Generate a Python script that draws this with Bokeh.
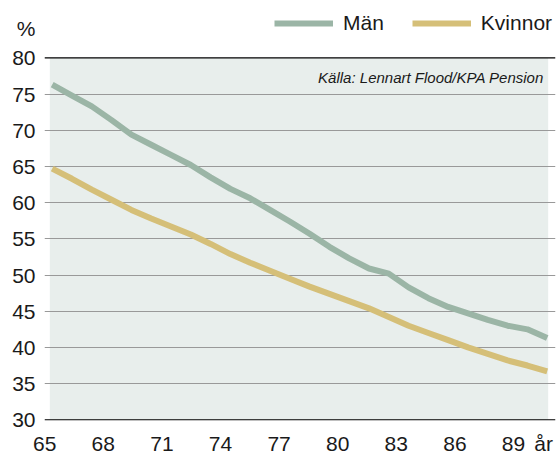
from bokeh.plotting import figure
from bokeh.models import (Range1d, LinearAxis, FixedTicker, Span, BoxAnnotation,
                          Label, Legend, LegendItem)
from bokeh.embed import file_html
from bokeh.resources import INLINE

# ---- data ----
ages = list(range(65, 91))
man = [76.3, 74.8, 73.3, 71.4, 69.4, 68.0, 66.6, 65.2, 63.5, 61.9, 60.6, 59.0, 57.4,
       55.7, 53.9, 52.3, 50.9, 50.2, 48.3, 46.8, 45.6, 44.7, 43.8, 43.0, 42.5, 41.3]
kvinnor = [64.7, 63.3, 61.8, 60.4, 59.0, 57.8, 56.7, 55.6, 54.3, 52.9, 51.7, 50.6, 49.5,
           48.4, 47.4, 46.4, 45.4, 44.2, 43.0, 42.0, 41.0, 40.0, 39.1, 38.2, 37.5, 36.7]
x_ticks = [65, 68, 71, 74, 77, 80, 83, 86, 89]
y_ticks = [30, 35, 40, 45, 50, 55, 60, 65, 70, 75, 80]
grid_vals = [35, 40, 45, 50, 55, 60, 65, 70, 75]
series_names = ["Män", "Kvinnor"]
source_text = "Källa: Lennart Flood/KPA Pension"
unit_text = "%"
x_unit_text = "år"

C_MAN = "#9bb5a6"
C_KV = "#d5bf78"
SHADE = "#e8eeec"
TXT = "#1a1a1a"
FONT = "Liberation Sans"

W, H = 559, 457
Y_LO, Y_HI = y_ticks[0], y_ticks[-1]

# the frame reaches the top of the canvas so the unit and legend sit inside it
p = figure(width=W, height=H, output_backend="svg", toolbar_location=None,
           x_range=Range1d(64.611, 90.419), y_range=Range1d(29.904, 87.93),
           min_border_left=44, min_border_right=4, min_border_top=0,
           min_border_bottom=35, x_axis_location=None, y_axis_location="left")
p.outline_line_color = None
p.background_fill_color = "white"
p.border_fill_color = "white"

# axis scale for the age labels
p.extra_x_ranges = {"lab": Range1d(64.99, 91.15)}
AR_POS = 90.54
xa = LinearAxis(x_range_name="lab", ticker=FixedTicker(ticks=x_ticks + [AR_POS]))
xa.major_label_overrides = {AR_POS: x_unit_text}
xa.axis_line_color = None
xa.major_tick_line_color = None
xa.minor_tick_line_color = None
xa.major_tick_out = 0
xa.major_tick_in = 0
xa.major_label_standoff = 11
xa.major_label_text_font = FONT
xa.major_label_text_font_size = "21px"
xa.major_label_text_color = TXT
p.add_layout(xa, "below")

PCT_POS = 84.02
ya = p.yaxis[0]
ya.ticker = FixedTicker(ticks=y_ticks + [PCT_POS])
ya.major_label_overrides = {PCT_POS: unit_text}
ya.axis_line_color = None
ya.major_tick_line_color = None
ya.minor_tick_line_color = None
ya.major_tick_out = 0
ya.major_tick_in = 0
ya.major_label_standoff = 9
ya.major_label_text_font = FONT
ya.major_label_text_font_size = "21px"
ya.major_label_text_color = TXT

p.xgrid.visible = False
p.ygrid.ticker = FixedTicker(ticks=grid_vals)
p.ygrid.grid_line_color = "#999999"
p.ygrid.grid_line_width = 1

shade = BoxAnnotation(left=64.879, right=90.05, bottom=Y_LO, top=Y_HI,
                      fill_color=SHADE, fill_alpha=1, line_color=None, level="image")
p.add_layout(shade)
for v in (Y_LO, Y_HI):
    p.add_layout(Span(location=v, dimension="width", line_color="black",
                      line_width=1.3, level="underlay"))

r1 = p.line(ages, man, line_color=C_MAN, line_width=6)
r2 = p.line(ages, kvinnor, line_color=C_KV, line_width=6)

legend = Legend(items=[LegendItem(label=series_names[0], renderers=[r1]),
                       LegendItem(label=series_names[1], renderers=[r2])],
                orientation="horizontal", location=(230, 385),
                glyph_width=59, glyph_height=20, label_standoff=10, spacing=28,
                padding=0, margin=0, border_line_color=None,
                background_fill_alpha=0, label_text_font=FONT,
                label_text_font_size="21px", label_text_color=TXT)
p.add_layout(legend, "center")

# source note inside the plot area (screen units relative to the frame)
p.add_layout(Label(x=499.3, y=343, x_units="screen", y_units="screen",
                   text=source_text, text_font=FONT, text_font_size="15px",
                   text_font_style="italic", text_color=TXT, text_align="right",
                   text_baseline="alphabetic"))

open("out.html", "w").write(file_html(p, INLINE))
